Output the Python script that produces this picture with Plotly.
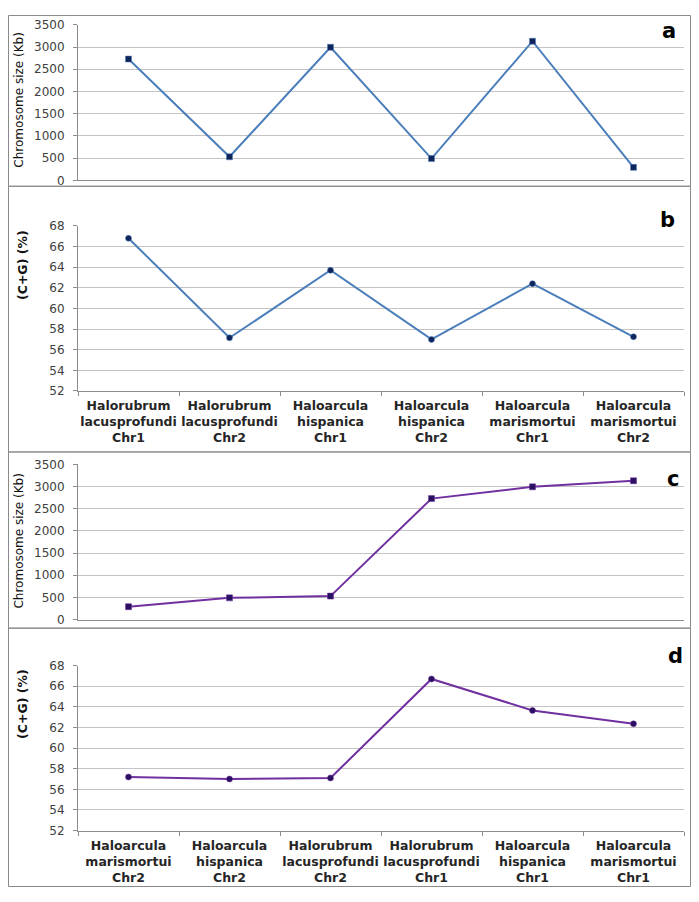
import plotly.graph_objects as go

# target picture size; the page body keeps its default 8px margin,
# so the figure itself is drawn 16px smaller and positions are shifted
W, H = 699, 902
PAD = 8
FW, FH = W - 2 * PAD, H - 2 * PAD

# panels a/b: original order
categories_ab = [
    "Halorubrum lacusprofundi Chr1",
    "Halorubrum lacusprofundi Chr2",
    "Haloarcula hispanica Chr1",
    "Haloarcula hispanica Chr2",
    "Haloarcula marismortui Chr1",
    "Haloarcula marismortui Chr2",
]
size_ab = [2730, 530, 2995, 490, 3132, 292]
gc_ab = [66.8, 57.15, 63.7, 57.0, 62.4, 57.25]

# panels c/d: sorted by size
categories_cd = [
    "Haloarcula marismortui Chr2",
    "Haloarcula hispanica Chr2",
    "Halorubrum lacusprofundi Chr2",
    "Halorubrum lacusprofundi Chr1",
    "Haloarcula hispanica Chr1",
    "Haloarcula marismortui Chr1",
]
size_cd = [292, 490, 530, 2730, 2995, 3132]
gc_cd = [57.2, 57.0, 57.1, 66.7, 63.65, 62.35]

size_ticks = [0, 500, 1000, 1500, 2000, 2500, 3000, 3500]
gc_ticks = [52, 54, 56, 58, 60, 62, 64, 66, 68]


def px_x(v):
    return (v - PAD) / FW


def px_y(v):
    return 1 - (v - PAD) / FH


def label(name):
    return "<br>".join(name.split(" "))


BLUE_LINE = "#4A7EBB"
BLUE_MARK = "#10245C"
PURPLE_LINE = "#7030A0"
PURPLE_MARK = "#2A1060"
GRID = "#C4C4C4"
AXIS = "#8C8C8C"

fig = go.Figure()

panels = [
    # (axis suffix, x labels, y values, y range, ticks, line, marker, symbol, plot top/bottom px, show labels)
    ("", categories_ab, size_ab, [0, 3500], size_ticks, BLUE_LINE, BLUE_MARK, "square", (18, 176), False),
    ("2", categories_ab, gc_ab, [52, 68], gc_ticks, BLUE_LINE, BLUE_MARK, "circle", (222.3, 390), True),
    ("3", categories_cd, size_cd, [0, 3500], size_ticks, PURPLE_LINE, PURPLE_MARK, "square", (464.7, 622.3), False),
    ("4", categories_cd, gc_cd, [52, 68], gc_ticks, PURPLE_LINE, PURPLE_MARK, "circle", (669, 836.7), True),
]

layout = {}
for suffix, cats, vals, yr, ticks, lc, mc, sym, (top, bottom), show in panels:
    fig.add_trace(go.Scatter(
        x=[label(c) for c in cats], y=vals,
        xaxis="x" + suffix, yaxis="y" + suffix,
        mode="lines+markers",
        line=dict(color=lc, width=2),
        marker=dict(symbol=sym, size=6, color=mc,
                    line=dict(width=0.5, color=lc)),
        showlegend=False, hoverinfo="x+y",
    ))
    layout["xaxis" + suffix] = dict(
        domain=[px_x(78), px_x(684)], anchor="y" + suffix,
        type="category", range=[-0.5, 5.5],
        showgrid=False, showline=True, linecolor=AXIS, linewidth=1,
        ticks="outside" if show else "", ticklen=4, tickcolor=AXIS,
        tickson="boundaries", tickangle=0, ticklabelstandoff=3,
        showticklabels=show,
        tickfont=dict(family="DejaVu Sans", size=12.5, color="#262626", weight="bold"),
        fixedrange=True,
    )
    layout["yaxis" + suffix] = dict(
        domain=[px_y(bottom), px_y(top)], anchor="x" + suffix,
        range=yr, tickvals=ticks,
        showgrid=True, gridcolor=GRID, gridwidth=1,
        zeroline=False, showline=True, linecolor=AXIS, linewidth=1,
        ticks="outside", ticklen=4, tickcolor=AXIS, ticklabelstandoff=6,
        tickfont=dict(family="DejaVu Sans", size=12, color="#404040"),
        fixedrange=True,
    )

# panel borders (outer edges kept just inside the drawable area)
borders = [(8.5, 8.5, 690.5, 182), (8.5, 182, 690.5, 452),
           (8.5, 452, 690.5, 631), (8.5, 631, 690.5, 893.5)]
shapes = [
    dict(type="rect", xref="paper", yref="paper",
         x0=px_x(x0), x1=px_x(x1), y0=px_y(y1), y1=px_y(y0),
         line=dict(color="#8A8A8A", width=1), fillcolor="rgba(0,0,0,0)", layer="below")
    for x0, y0, x1, y1 in borders
]

annotations = []
# y-axis titles
for text, x, y, bold in [
    ("Chromosome size (Kb)", 19, 95, False),
    ("(C+G) (%)", 23, 262, True),
    ("Chromosome size (Kb)", 19, 543, False),
    ("(C+G) (%)", 23, 708, True),
]:
    annotations.append(dict(
        text="<b>%s</b>" % text if bold else text,
        xref="paper", yref="paper", x=px_x(x), y=px_y(y),
        xanchor="center", yanchor="middle", textangle=-90, showarrow=False,
        font=dict(family="DejaVu Sans", size=12 if not bold else 12.5, color="#111111"),
    ))
# panel letters
for text, x, y in [("a", 669, 24), ("b", 667, 216), ("c", 673, 479), ("d", 675, 659)]:
    annotations.append(dict(
        text="<b>%s</b>" % text, xref="paper", yref="paper", x=px_x(x), y=px_y(y),
        xanchor="center", yanchor="middle", showarrow=False,
        font=dict(family="DejaVu Sans", size=21, color="#000000"),
    ))

fig.update_layout(
    width=FW, height=FH,
    margin=dict(l=0, r=0, t=0, b=0),
    paper_bgcolor="white", plot_bgcolor="white",
    shapes=shapes, annotations=annotations,
    **layout,
)

fig.write_html("out.html")
